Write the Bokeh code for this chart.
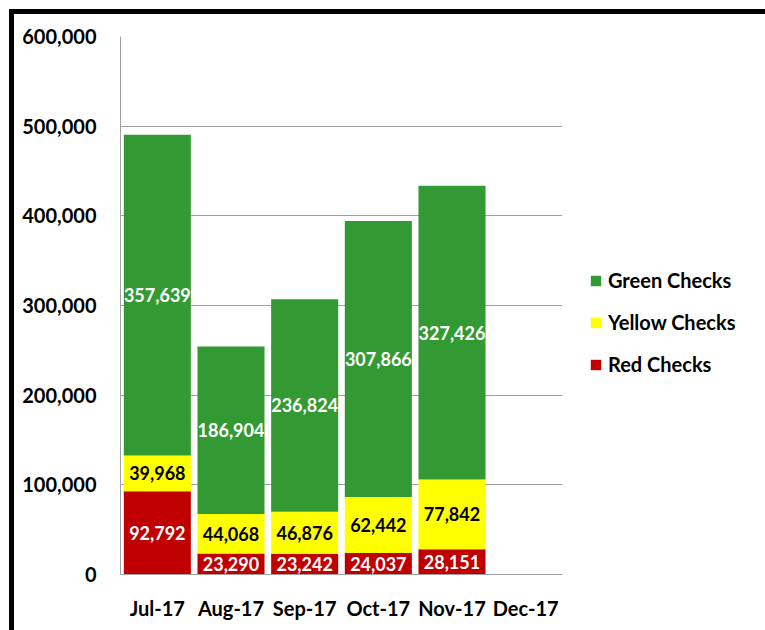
from bokeh.plotting import figure
from bokeh.models import (ColumnDataSource, FactorRange, Range1d, SingleIntervalTicker,
                          NumeralTickFormatter, Legend, LegendItem, LabelSet)
from bokeh.core.properties import value
from bokeh.embed import file_html
from bokeh.resources import INLINE

months = ["Jul-17", "Aug-17", "Sep-17", "Oct-17", "Nov-17", "Dec-17"]
red = [92792, 23290, 23242, 24037, 28151, 0]
yellow = [39968, 44068, 46876, 62442, 77842, 0]
green = [357639, 186904, 236824, 307866, 327426, 0]
series_names = ["Green Checks", "Yellow Checks", "Red Checks"]
colors = {"red": "#C00000", "yellow": "#FFFF00", "green": "#339933"}

FONT = "Lato"

src = ColumnDataSource(dict(month=months, red=red, yellow=yellow, green=green))

p = figure(x_range=FactorRange(*months, range_padding=0), y_range=Range1d(0, 600000),
           frame_width=442, frame_height=538, output_backend="svg", toolbar_location=None,
           min_border_left=106, min_border_top=22, min_border_bottom=56, min_border_right=193,
           styles={"box-sizing": "content-box", "margin-left": "9px", "margin-top": "9px",
                   "border-left": "5px solid black", "border-top": "5px solid black",
                   "border-right": "5px solid black"})
p.outline_line_color = None

rs = p.vbar_stack(["red", "yellow", "green"], x="month", width=0.91, source=src,
                  color=[colors["red"], colors["yellow"], colors["green"]], line_color=None)

# labels
n = 5
lab_x, lab_y, lab_t, lab_c = [], [], [], []
for i in range(n):
    r, yv, g = red[i], yellow[i], green[i]
    for base, v, c in [(0, r, "white"), (r, yv, "black"), (r + yv, g, "white")]:
        lab_x.append(months[i]); lab_y.append(base + v / 2); lab_t.append(f"{v:,}"); lab_c.append(c)
lsrc = ColumnDataSource(dict(x=lab_x, y=lab_y, t=lab_t, c=lab_c))
p.add_layout(LabelSet(x="x", y="y", text="t", source=lsrc, text_color="c",
                      text_font=value(FONT), text_font_style="bold", text_font_size="18px",
                      text_align="center", text_baseline="middle"))

p.yaxis.ticker = SingleIntervalTicker(interval=100000)
p.yaxis.formatter = NumeralTickFormatter(format="0,0")
for ax in (p.xaxis[0], p.yaxis[0]):
    ax.major_label_text_font = FONT
    ax.major_label_text_font_style = "bold"
    ax.major_label_text_font_size = "20px"
    ax.major_label_text_color = "black"
    ax.major_tick_line_color = None
    ax.minor_tick_line_color = None
    ax.axis_line_color = "#a0a0a0"
p.yaxis.major_label_standoff = 18
p.xaxis.major_label_standoff = 15
p.xgrid.grid_line_color = None
p.ygrid.grid_line_color = "#a0a0a0"

legend = Legend(items=[LegendItem(label=series_names[0], renderers=[rs[2]]),
                       LegendItem(label=series_names[1], renderers=[rs[1]]),
                       LegendItem(label=series_names[2], renderers=[rs[0]])],
                location=(27, 198))
legend.label_text_font = FONT
legend.label_text_font_style = "bold"
legend.label_text_font_size = "20px"
legend.label_text_color = "black"
legend.glyph_width = 13
legend.glyph_height = 13
legend.label_height = 20
legend.label_standoff = 6
legend.spacing = 18
legend.border_line_color = None
legend.background_fill_alpha = 0
legend.margin = 0
legend.padding = 0
p.add_layout(legend, "right")

open("out.html", "w").write(file_html(p, INLINE))
